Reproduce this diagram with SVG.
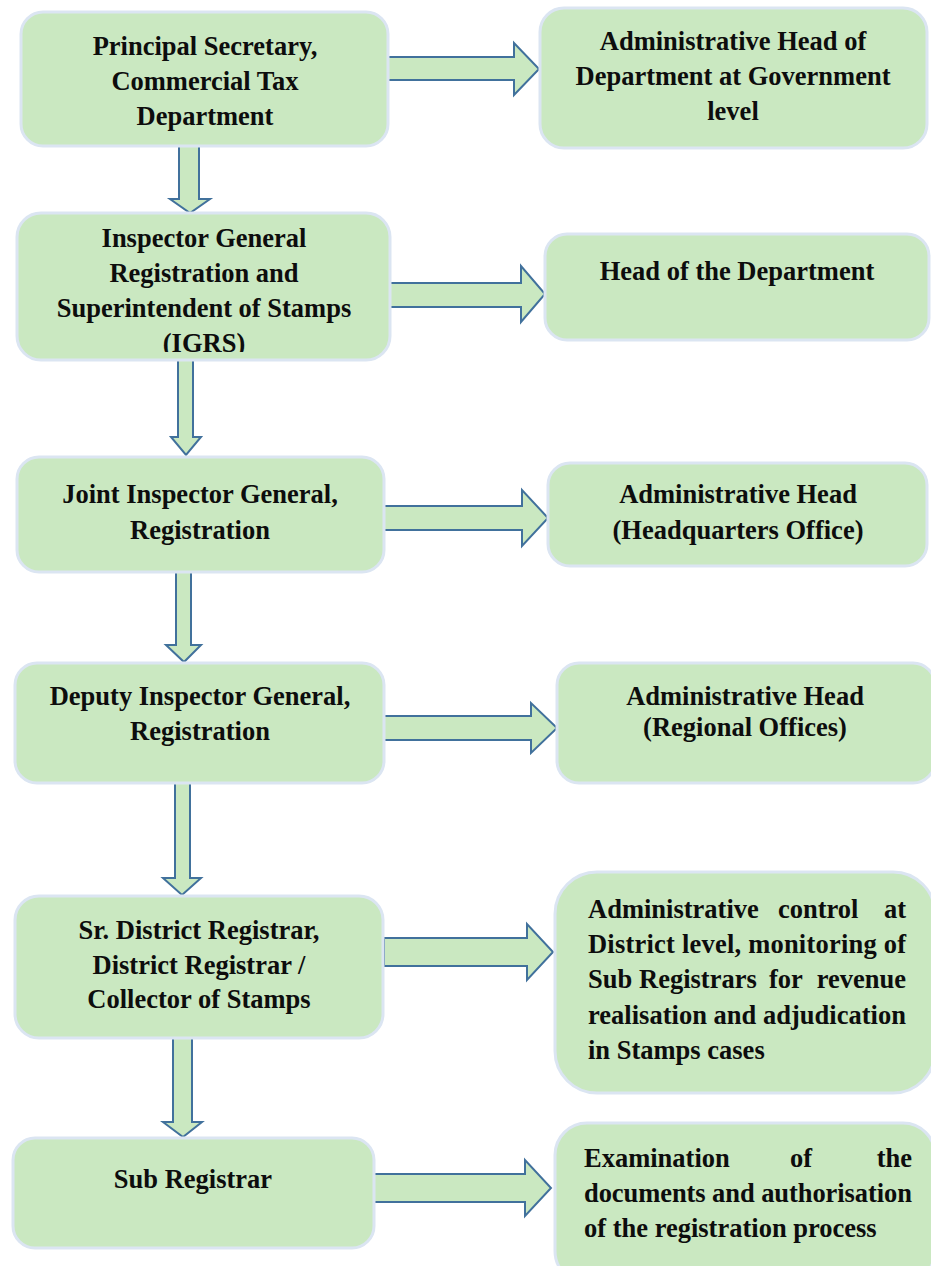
<svg xmlns="http://www.w3.org/2000/svg" width="931" height="1266" viewBox="0 0 931 1266">
<style>
.box{fill:#CAE8C1;stroke:#DBE5F2;stroke-width:3}
.arr{fill:#CAE8C1;stroke:#41719C;stroke-width:2;stroke-linejoin:miter}
text{font-family:'Liberation Serif',serif;font-weight:bold;font-size:26.5px;fill:#0d0d0d}
.t{text-anchor:middle}
.l{text-anchor:start}
.e{text-anchor:end}
</style>
<defs>
<clipPath id="clip2"><rect x="17" y="213" width="373" height="139"/></clipPath>
</defs>
<rect width="931" height="1266" fill="#ffffff"/>
<g id="connectors">
<polygon class="arr" points="388,57 514,57 514,43 539,69 514,95 514,80 388,80"/>
<polygon class="arr" points="390,283 521,283 521,266 545,294 521,322 521,307 390,307"/>
<polygon class="arr" points="383,506 522,506 522,490 548,518 522,546 522,530 383,530"/>
<polygon class="arr" points="383,716 531,716 531,703 557,728 531,753 531,740 383,740"/>
<polygon class="arr" points="384,938 527,938 527,924 553,952 527,980 527,966 384,966"/>
<polygon class="arr" points="372,1174 525,1174 525,1160 551,1188 525,1216 525,1202 372,1202"/>
<polygon class="arr" points="179,146 199,146 199,199 210,199 190,213 170,199 179,199"/>
<polygon class="arr" points="178,360 193,360 193,437 201,437 186,455 171,437 178,437"/>
<polygon class="arr" points="176,572 191,572 191,645 201,645 184,662 166,645 176,645"/>
<polygon class="arr" points="175,783 190,783 190,878 201,878 182,895 163,878 175,878"/>
<polygon class="arr" points="173,1038 192,1038 192,1122 202,1122 183,1137 163,1122 173,1122"/>
</g>
<g id="n1">
<rect class="box" x="21" y="12" width="367" height="134" rx="22"/>
<text class="t" x="205" y="55">Principal Secretary,</text>
<text class="t" x="205" y="90">Commercial Tax</text>
<text class="t" x="205" y="125">Department</text>
</g>
<g id="r1">
<rect class="box" x="540" y="8" width="387" height="140" rx="24"/>
<text class="t" x="733" y="50">Administrative Head of</text>
<text class="t" x="733" y="85">Department at Government</text>
<text class="t" x="733" y="120">level</text>
</g>
<g id="n2">
<rect class="box" x="17" y="213" width="373" height="147" rx="24"/>
<g clip-path="url(#clip2)">
<text class="t" x="204" y="247">Inspector General</text>
<text class="t" x="204" y="282">Registration and</text>
<text class="t" x="204" y="317">Superintendent of Stamps</text>
<text class="t" x="204" y="352">(IGRS)</text>
</g>
</g>
<g id="r2">
<rect class="box" x="545" y="234" width="384" height="106" rx="22"/>
<text class="t" x="737" y="280">Head of the Department</text>
</g>
<g id="n3">
<rect class="box" x="17" y="457" width="367" height="115" rx="22"/>
<text class="t" x="200" y="503">Joint Inspector General,</text>
<text class="t" x="200" y="539">Registration</text>
</g>
<g id="r3">
<rect class="box" x="548" y="463" width="379" height="103" rx="22"/>
<text class="t" x="738" y="503">Administrative Head</text>
<text class="t" x="738" y="539">(Headquarters Office)</text>
</g>
<g id="n4">
<rect class="box" x="15" y="663" width="369" height="120" rx="22"/>
<text class="t" x="200" y="705">Deputy Inspector General,</text>
<text class="t" x="200" y="740">Registration</text>
</g>
<g id="r4">
<rect class="box" x="557" y="663" width="378" height="120" rx="22"/>
<text class="t" x="745" y="705">Administrative Head</text>
<text class="t" x="745" y="736">(Regional Offices)</text>
</g>
<g id="n5">
<rect class="box" x="15" y="896" width="368" height="142" rx="24"/>
<text class="t" x="199" y="939">Sr. District Registrar,</text>
<text class="t" x="199" y="974">District Registrar /</text>
<text class="t" x="199" y="1008">Collector of Stamps</text>
</g>
<g id="r5">
<rect class="box" x="555" y="872" width="380" height="221" rx="42"/>
<text class="l" x="588" y="918">Administrative</text>
<text class="l" x="778" y="918">control</text>
<text class="e" x="906" y="918">at</text>
<text class="l" x="588" y="953" textLength="318" lengthAdjust="spacing">District level, monitoring of</text>
<text class="l" x="588" y="988">Sub</text>
<text class="l" x="639" y="988">Registrars</text>
<text class="l" x="769" y="988">for</text>
<text class="e" x="906" y="988">revenue</text>
<text class="l" x="588" y="1024" textLength="318" lengthAdjust="spacing">realisation and adjudication</text>
<text class="l" x="588" y="1059">in Stamps cases</text>
</g>
<g id="n6">
<rect class="box" x="13" y="1138" width="361" height="110" rx="22"/>
<text class="t" x="193" y="1188">Sub Registrar</text>
</g>
<g id="r6">
<rect class="box" x="555" y="1123" width="380" height="160" rx="32"/>
<text class="l" x="584" y="1167">Examination</text>
<text class="l" x="790" y="1167">of</text>
<text class="e" x="912" y="1167">the</text>
<text class="l" x="584" y="1202" textLength="328" lengthAdjust="spacing">documents and authorisation</text>
<text class="l" x="584" y="1237">of the registration process</text>
</g>
</svg>
